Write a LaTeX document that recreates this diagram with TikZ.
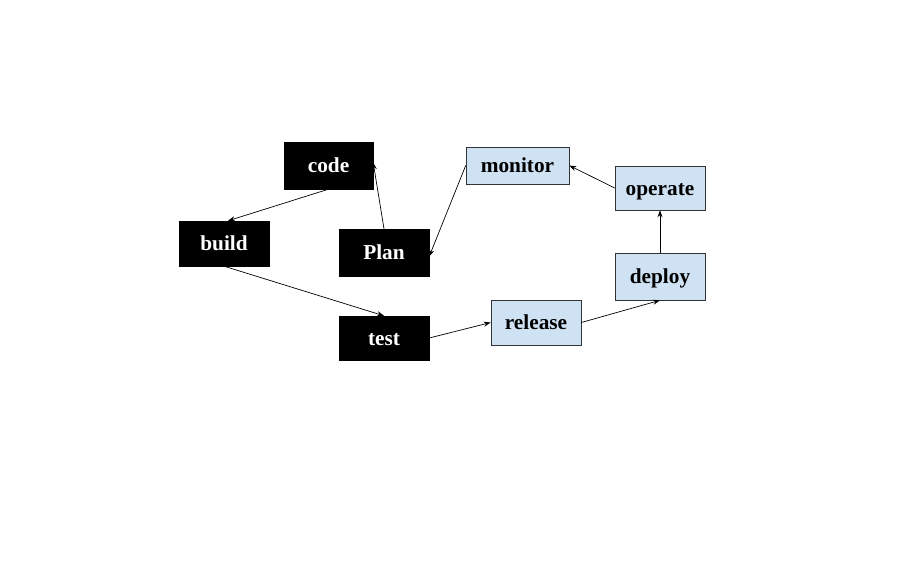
\documentclass[tikz,border=0pt]{standalone}
\usepackage{fontspec}
\setmainfont{Liberation Serif}
\usetikzlibrary{arrows.meta}
\definecolor{lblue}{HTML}{CFE2F3}
\begin{document}
\begin{tikzpicture}[x=1pt,y=-1pt,
  boxtext/.style={font=\fontsize{21.3}{24}\selectfont\bfseries,inner sep=0pt,text height=14.5pt,text depth=0pt},
  darkbox/.style={boxtext,draw=black,fill=black,text=white},
  lightbox/.style={boxtext,draw=black!80,fill=lblue,text=black,line width=0.6pt},
  conn/.style={draw=black,line width=0.7pt,-{Stealth[length=7pt,width=5pt]}}]
\useasboundingbox (0,0) rectangle (905,560);
\node[darkbox,minimum width=89pt,minimum height=47pt] (code) at (328.5,165.5) {code};
\node[darkbox,minimum width=90pt,minimum height=45pt] (build) at (224,243.5) {build};
\node[darkbox,minimum width=90pt,minimum height=47pt] (plan) at (384,252.5) {Plan};
\node[darkbox,minimum width=90pt,minimum height=44pt] (test) at (384,338) {test};
\node[lightbox,minimum width=103pt,minimum height=37pt] (monitor) at (517.5,165.5) {monitor};
\node[lightbox,minimum width=90pt,minimum height=44pt] (operate) at (660,188) {operate};
\node[lightbox,minimum width=90pt,minimum height=47pt] (deploy) at (660,276.5) {deploy};
\node[lightbox,minimum width=90pt,minimum height=45pt] (release) at (536,322.5) {release};
\draw[conn] (code.south) -- ([xshift=4pt]build.north);
\draw[conn] (plan.north) -- ([yshift=3pt]code.east);
\draw[conn] (monitor.west) -- ([yshift=-4pt]plan.east);
\draw[conn] (build.south) -- (test.north);
\draw[conn] (test.east) -- (release.west);
\draw[conn] (release.east) -- (deploy.south);
\draw[conn] (deploy.north) -- (operate.south);
\draw[conn] (operate.west) -- (monitor.east);
\end{tikzpicture}
\end{document}
